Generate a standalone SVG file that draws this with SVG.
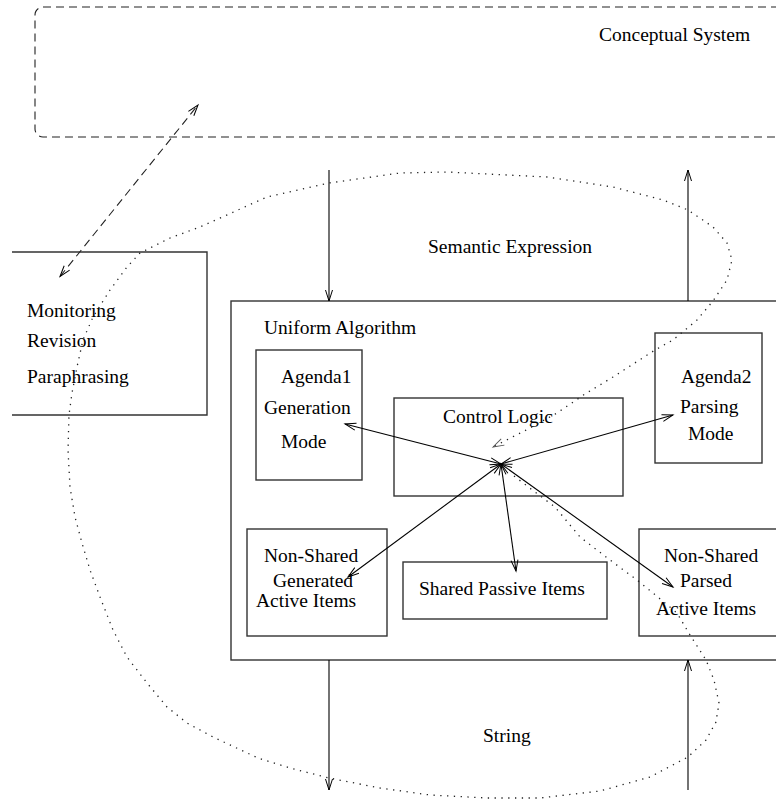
<svg xmlns="http://www.w3.org/2000/svg" width="776" height="802" viewBox="0 0 776 802">
<style>
text{font-family:"Liberation Serif","Times New Roman",serif;font-size:19.5px;fill:#000}
.box{fill:none;stroke:#333;stroke-width:1.4}
.arr{fill:none;stroke:#000;stroke-width:1.1}
.dash{fill:none;stroke:#222;stroke-width:1.1;stroke-dasharray:8 5}
.dot{fill:none;stroke:#222;stroke-width:1.3;stroke-dasharray:1.3 5.5;stroke-linejoin:round}
</style>
<defs>
<marker id="ah" markerWidth="14" markerHeight="10" refX="11" refY="4" orient="auto-start-reverse" markerUnits="userSpaceOnUse" overflow="visible">
<path d="M0,0.5 L11,4 L0,7.5" fill="none" stroke="#000" stroke-width="1"/>
</marker>
<marker id="ahd" markerWidth="14" markerHeight="10" refX="11" refY="4" orient="auto-start-reverse" markerUnits="userSpaceOnUse" overflow="visible">
<path d="M0,0.5 L11,4 L0,7.5" fill="none" stroke="#555" stroke-width="0.9"/>
</marker>
</defs>

<g id="conceptual-system">
<rect x="35" y="7" width="800" height="130" rx="8" class="dash"/>
<text x="599" y="40.5">Conceptual System</text>
</g>

<g id="monitoring">
<path d="M12,252 H207 V415 H12" class="box"/>
<text x="27" y="317">Monitoring</text>
<text x="27" y="347">Revision</text>
<text x="27" y="383">Paraphrasing</text>
</g>

<g id="uniform-algorithm">
<rect x="231" y="301" width="600" height="359" class="box"/>
<text x="264" y="334">Uniform Algorithm</text>
</g>

<g id="agenda1">
<rect x="256" y="350" width="106" height="130" class="box"/>
<text x="281" y="383">Agenda1</text>
<text x="264" y="414">Generation</text>
<text x="281" y="448">Mode</text>
</g>

<g id="control-logic">
<rect x="394" y="398" width="229" height="98" class="box"/>
<text x="443" y="423">Control Logic</text>
</g>

<g id="agenda2">
<rect x="655" y="333" width="107" height="130" class="box"/>
<text x="681" y="383">Agenda2</text>
<text x="680" y="413">Parsing</text>
<text x="688" y="440">Mode</text>
</g>

<g id="non-shared-generated">
<rect x="247" y="529" width="140" height="107" class="box"/>
<text x="264" y="562">Non-Shared</text>
<text x="273" y="587">Generated</text>
<text x="256" y="607">Active Items</text>
</g>

<g id="shared-passive">
<rect x="403" y="562" width="204" height="57" class="box"/>
<text x="419" y="595">Shared Passive Items</text>
</g>

<g id="non-shared-parsed">
<rect x="639" y="529" width="200" height="107" class="box"/>
<text x="664" y="562">Non-Shared</text>
<text x="680" y="587">Parsed</text>
<text x="656" y="615">Active Items</text>
</g>

<g id="labels">
<text x="428" y="252.5">Semantic Expression</text>
<text x="483" y="742">String</text>
</g>

<g id="connectors">
<line x1="60" y1="276.5" x2="198" y2="105" class="dash" marker-start="url(#ah)" marker-end="url(#ah)"/>
<line x1="329" y1="170" x2="329" y2="301" class="arr" marker-end="url(#ah)"/>
<line x1="688" y1="301" x2="688" y2="170" class="arr" marker-end="url(#ah)"/>
<line x1="329" y1="660" x2="329" y2="790" class="arr" marker-end="url(#ah)"/>
<line x1="688" y1="790" x2="688" y2="660" class="arr" marker-end="url(#ah)"/>
<line x1="501" y1="464" x2="345" y2="424" class="arr" marker-start="url(#ah)" marker-end="url(#ah)"/>
<line x1="501" y1="464" x2="673" y2="415" class="arr" marker-start="url(#ah)" marker-end="url(#ah)"/>
<line x1="501" y1="464" x2="348" y2="577" class="arr" marker-start="url(#ah)" marker-end="url(#ah)"/>
<line x1="501" y1="464" x2="516" y2="571" class="arr" marker-start="url(#ah)" marker-end="url(#ah)"/>
<line x1="501" y1="464" x2="673" y2="587" class="arr" marker-start="url(#ah)" marker-end="url(#ah)"/>
<polyline class="dot" marker-end="url(#ahd)" points="514,476 535,492 555,507 580,537 610,560 637,580 653,593 677,613 690,635 706,660 714,680 719,703 716,722 706,740 688,757 650,777 600,791 540,798 487,798 430,795 380,788 329,778 290,768 258,758 213,737 187,723 167,707 147,683 127,657 113,630 100,597 90,570 82,543 75,517 70,487 68,450 69,415 72,393 77,367 83,340 93,317 110,290 127,267 140,253 170,238 200,227 267,197 329,183 400,173 447,172 547,177 613,187 663,200 688,210 713,227 727,243 732,260 727,280 713,301 697,320 673,340 655,350 613,377 585,394 557,413 530,428 493,447"/>
</g>
</svg>
